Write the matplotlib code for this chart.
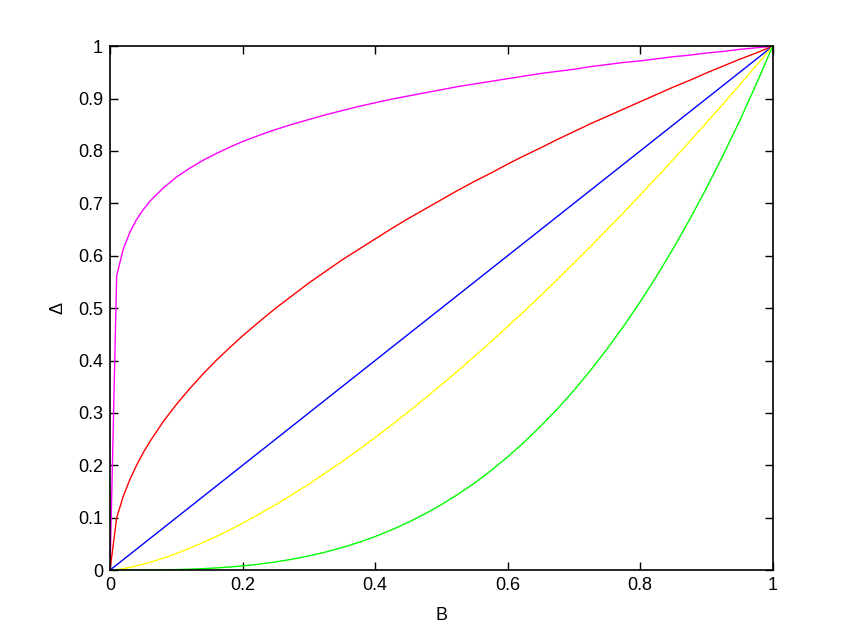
import matplotlib
matplotlib.use('Agg')
import matplotlib.pyplot as plt

# sample points along B
B = [0, 0.01, 0.02, 0.03, 0.04, 0.05, 0.06, 0.08, 0.1, 0.12, 0.14, 0.16, 0.18, 0.2,
     0.225, 0.25, 0.275, 0.3, 0.325, 0.35, 0.375, 0.4,
     0.425, 0.45, 0.475, 0.5, 0.525, 0.55, 0.575, 0.6,
     0.625, 0.65, 0.675, 0.7, 0.725, 0.75, 0.775, 0.8,
     0.825, 0.85, 0.875, 0.9, 0.925, 0.95, 0.975, 1.0]

magenta = [0, 0.562, 0.613, 0.645, 0.669, 0.688, 0.704, 0.729, 0.750, 0.767, 0.782, 0.795, 0.807, 0.818,
           0.830, 0.841, 0.851, 0.860, 0.869, 0.877, 0.885, 0.892,
           0.899, 0.905, 0.911, 0.917, 0.923, 0.928, 0.933, 0.938,
           0.943, 0.948, 0.952, 0.956, 0.961, 0.965, 0.969, 0.972,
           0.976, 0.980, 0.983, 0.987, 0.990, 0.994, 0.997, 1.0]
red = [0, 0.100, 0.141, 0.173, 0.200, 0.224, 0.245, 0.283, 0.316, 0.346, 0.374, 0.400, 0.424, 0.447,
       0.474, 0.500, 0.524, 0.548, 0.570, 0.592, 0.612, 0.632,
       0.652, 0.671, 0.689, 0.707, 0.725, 0.742, 0.758, 0.775,
       0.791, 0.806, 0.822, 0.837, 0.852, 0.866, 0.880, 0.894,
       0.908, 0.922, 0.935, 0.949, 0.962, 0.975, 0.987, 1.0]
blue = [0, 0.01, 0.02, 0.03, 0.04, 0.05, 0.06, 0.08, 0.1, 0.12, 0.14, 0.16, 0.18, 0.2,
        0.225, 0.25, 0.275, 0.3, 0.325, 0.35, 0.375, 0.4,
        0.425, 0.45, 0.475, 0.5, 0.525, 0.55, 0.575, 0.6,
        0.625, 0.65, 0.675, 0.7, 0.725, 0.75, 0.775, 0.8,
        0.825, 0.85, 0.875, 0.9, 0.925, 0.95, 0.975, 1.0]
yellow = [0, 0.001, 0.0028, 0.0052, 0.008, 0.0112, 0.0147, 0.0226, 0.0316, 0.0416, 0.0524, 0.064, 0.0764, 0.0894,
          0.1067, 0.125, 0.1442, 0.164, 0.1853, 0.207, 0.2296, 0.253,
          0.2771, 0.302, 0.3274, 0.354, 0.3804, 0.408, 0.436, 0.465,
          0.4941, 0.524, 0.5546, 0.586, 0.6173, 0.650, 0.6823, 0.716,
          0.7493, 0.784, 0.8185, 0.854, 0.8896, 0.926, 0.9627, 1.0]
green = [0, 0.000001, 0.000008, 0.000027, 0.000064, 0.000125, 0.000216, 0.000512, 0.001, 0.001728,
         0.002744, 0.0041, 0.005832, 0.008,
         0.01139, 0.0156, 0.0208, 0.027, 0.03433, 0.0429, 0.05273, 0.064,
         0.07677, 0.0911, 0.1072, 0.125, 0.1447, 0.166, 0.1901, 0.216,
         0.2441, 0.275, 0.3075, 0.343, 0.3811, 0.422, 0.4655, 0.512,
         0.5615, 0.614, 0.6699, 0.729, 0.7915, 0.857, 0.9269, 1.0]

xticks = [0, 0.2, 0.4, 0.6, 0.8, 1]
xticklabels = ['0', '0.2', '0.4', '0.6', '0.8', '1']
yticks = [0, 0.1, 0.2, 0.3, 0.4, 0.5, 0.6, 0.7, 0.8, 0.9, 1]
yticklabels = ['0', '0.1', '0.2', '0.3', '0.4', '0.5', '0.6', '0.7', '0.8', '0.9', '1']

plt.rcParams['font.family'] = ['Liberation Sans', 'DejaVu Sans']
plt.rcParams['font.size'] = 13

fig = plt.figure(figsize=(8.55, 6.42), dpi=100)
ax = fig.add_axes([0.1287, 0.112, 0.775, 0.816])

lw = 1.0
ax.plot(B, magenta, color='#ff00ff', lw=lw)
ax.plot(B, red, color='#ff0000', lw=lw)
ax.plot(B, blue, color='#0000ff', lw=lw)
ax.plot(B, yellow, color='#ffff00', lw=lw)
ax.plot(B, green, color='#00ff00', lw=lw)

ax.set_xlim(0, 1)
ax.set_ylim(0, 1)
ax.set_xticks(xticks)
ax.set_xticklabels(xticklabels)
ax.set_yticks(yticks)
ax.set_yticklabels(yticklabels)
ax.tick_params(direction='in', top=True, right=True, length=6, width=1, pad=5)
for s in ax.spines.values():
    s.set_linewidth(1.2)

ax.set_xlabel('B', labelpad=9)
ax.set_ylabel('Δ', labelpad=8)

fig.savefig('out.png', dpi=100)
